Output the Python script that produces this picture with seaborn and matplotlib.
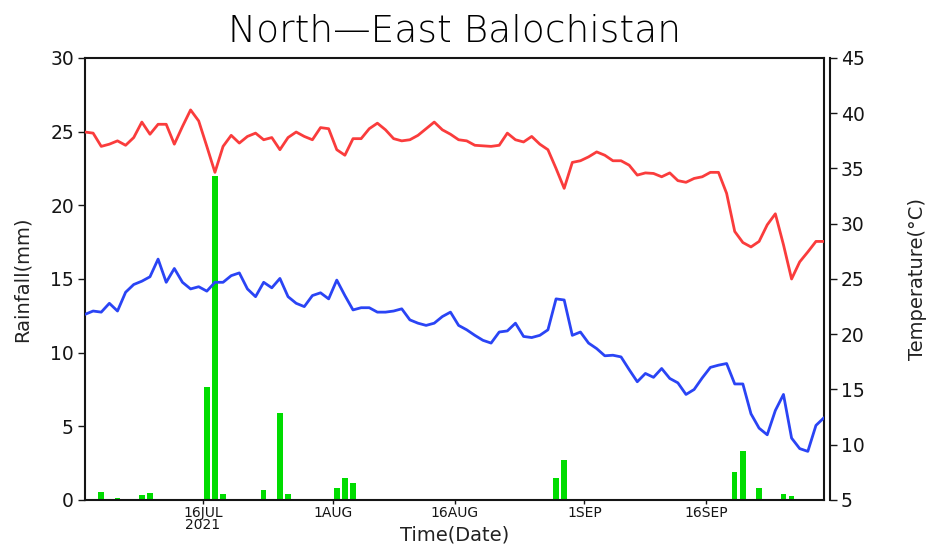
import numpy as np
import pandas as pd
import matplotlib
matplotlib.use("Agg")
import matplotlib.pyplot as plt
import seaborn as sns

# Daily series, 1 July – 30 September 2021
start_date = "2021-07-01"
n_days = 92

tmax = [38.3, 38.2, 37.0, 37.2, 37.5, 37.1, 37.8, 39.2, 38.1, 39.0,
        39.0, 37.2, 38.8, 40.3, 39.3, 37.0, 34.65, 37.0, 38.0, 37.3,
        37.9, 38.2, 37.6, 37.8, 36.7, 37.8, 38.3, 37.9, 37.6, 38.7,
        38.6, 36.7, 36.2, 37.7, 37.7, 38.6, 39.1, 38.5, 37.7, 37.5,
        37.6, 38.0, 38.6, 39.2, 38.5, 38.1, 37.6, 37.5, 37.1, 37.05,
        37.0, 37.1, 38.2, 37.6, 37.4, 37.9, 37.2, 36.7, 35.0, 33.2,
        35.55, 35.7, 36.05, 36.5, 36.2, 35.7, 35.7, 35.3, 34.4, 34.6,
        34.55, 34.25, 34.6, 33.9, 33.75, 34.1, 34.25, 34.65, 34.65, 32.75,
        29.3, 28.3, 27.9, 28.4, 29.9, 30.9, 28.1, 25.0, 26.55, 27.45,
        28.4, 28.4]

tmin = [21.8, 22.1, 22.0, 22.8, 22.1, 23.8, 24.5, 24.8, 25.2, 26.8,
        24.7, 25.95, 24.7, 24.1, 24.3, 23.9, 24.7, 24.7, 25.3, 25.55,
        24.1, 23.4, 24.7, 24.2, 25.05, 23.4, 22.8, 22.5, 23.5, 23.75,
        23.2, 24.9, 23.5, 22.2, 22.4, 22.4, 22.0, 22.0, 22.1, 22.3,
        21.3, 21.0, 20.8, 21.0, 21.6, 22.0, 20.8, 20.4, 19.9, 19.45,
        19.2, 20.2, 20.3, 21.0, 19.8, 19.7, 19.9, 20.4, 23.2, 23.1,
        19.9, 20.2, 19.2, 18.7, 18.05, 18.1, 17.95, 16.8, 15.7, 16.45,
        16.1, 16.9, 16.0, 15.6, 14.55, 15.0, 16.05, 17.0, 17.2, 17.35,
        15.5, 15.5, 12.8, 11.5, 10.9, 13.1, 14.55, 10.6, 9.65, 9.4,
        11.75, 12.45]

# Rainy days (day number counted from 1 July) and amounts in mm
rain_day = [2, 3, 4, 6, 7, 8, 9, 15, 16, 17, 22, 24, 25,
            31, 32, 33, 58, 59, 80, 81, 83, 86, 87]
rain_mm = [0.56, 0.05, 0.11, 0.05, 0.34, 0.5, 0.04, 7.65, 22.0, 0.39, 0.68, 5.88, 0.39,
           0.84, 1.52, 1.18, 1.52, 2.72, 1.88, 3.33, 0.84, 0.39, 0.3]

tick_dates = ["2021-07-16", "2021-08-01", "2021-08-16", "2021-09-01", "2021-09-16"]
tick_labels = ["16JUL\n2021", "1AUG", "16AUG", "1SEP", "16SEP"]

RED = "#FA3C3C"
BLUE = "#2A44F5"
GREEN = "#00DC00"
INK = "#151515"

sns.set_theme(style="ticks")
plt.rcParams["font.family"] = ["DejaVu Sans"]

# Daily values are placed at mid-day; x is days since 1 July 00:00
t0 = pd.Timestamp(start_date)
rain = np.zeros(n_days)
rain[rain_day] = rain_mm
df = pd.DataFrame({
    "day": np.arange(n_days) + 0.5,
    "rain": rain,
    "tmax": tmax,
    "tmin": tmin,
})
tick_pos = [(pd.Timestamp(d) - t0).days for d in tick_dates]

fig = plt.figure(figsize=(9.32, 5.45), dpi=100)
ax = fig.add_axes([0.0912, 0.0826, 0.793, 0.811])

sns.barplot(data=df, x="day", y="rain", native_scale=True, width=0.68,
            color=GREEN, saturation=1, linewidth=0, ax=ax, errorbar=None)
ax.set_xlim(df["day"].iloc[0], df["day"].iloc[-1])
ax.set_ylim(0, 30)
ax.set_yticks(np.arange(0, 31, 5))
ax.set_xticks(tick_pos)
ax.set_xticklabels(tick_labels, fontsize=10, linespacing=0.9)
ax.tick_params(axis="y", labelsize=13.5, length=5, width=1.0, direction="out",
               colors=INK, pad=3)
ax.tick_params(axis="x", length=3, width=1.0, direction="out", colors=INK, pad=1)
for s in ax.spines.values():
    s.set_visible(True)
    s.set_linewidth(1.5)
    s.set_color(INK)
ax.set_ylabel("Rainfall(mm)", fontsize=14, labelpad=13, color="#222222")
ax.set_xlabel("Time(Date)", fontsize=14, color="#222222")
ax.xaxis.set_label_coords(0.5, -0.057)

ax2 = ax.twinx()
sns.lineplot(data=df, x="day", y="tmax", color=RED, linewidth=2.0, ax=ax2)
sns.lineplot(data=df, x="day", y="tmin", color=BLUE, linewidth=2.0, ax=ax2)
ax2.set_xlim(df["day"].iloc[0], df["day"].iloc[-1])
ax2.set_ylim(5, 45)
ax2.set_yticks(np.arange(5, 46, 5))
ax2.spines["right"].set_position(("outward", 4))
ax2.spines["right"].set_linewidth(1.5)
ax2.spines["right"].set_color(INK)
for side in ["left", "top", "bottom"]:
    ax2.spines[side].set_visible(False)
ax2.tick_params(axis="y", labelsize=13.5, length=5, width=1.0, direction="out",
                colors=INK, pad=3)
ax2.set_ylabel("Temperature(°C)", fontsize=14, labelpad=31, color="#222222")
ax2.set_xlabel("")

fig.text(0.4877, 0.944, "North\u2014East Balochistan", ha="center", va="center",
         fontsize=27, fontweight="light", color="#000000")

fig.savefig("out.png", dpi=100)
